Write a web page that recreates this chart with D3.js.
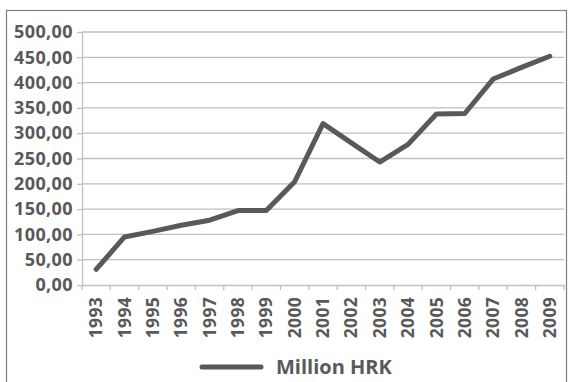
<!DOCTYPE html>
<html>
<head>
<meta charset="utf-8">
<script src="https://cdn.jsdelivr.net/npm/d3@7"></script>
<style>
  body { margin: 0; background: #fff; }
  svg { display: block; font-family: "Open Sans", sans-serif; }
</style>
</head>
<body>
<svg id="chart"></svg>
<script>
// Data
const years = ["1993", "1994", "1995", "1996", "1997", "1998", "1999", "2000", "2001",
  "2002", "2003", "2004", "2005", "2006", "2007", "2008", "2009"];
const millionHRK = [31, 95, 106, 118, 128, 147, 147, 204, 319,
  281, 243, 278, 338, 339, 407, 430, 452];
const yTicks = [0, 50, 100, 150, 200, 250, 300, 350, 400, 450, 500];
const seriesName = "Million HRK";

const W = 571, H = 382;
const margin = { top: 32, right: 7, bottom: 97, left: 82 };
const FONT = "'Open Sans', sans-serif";

const svg = d3.select("#chart").attr("width", W).attr("height", H);

// outer frame
svg.append("rect")
  .attr("x", 6.5).attr("y", 10.5)
  .attr("width", 560).attr("height", 380)
  .attr("fill", "none").attr("stroke", "#7f7f7f").attr("stroke-width", 1.2);

const x = d3.scaleBand()
  .domain(years)
  .range([margin.left, W - margin.right]);

const y = d3.scaleLinear()
  .domain([0, 500])
  .range([H - margin.bottom, margin.top]);

const fmt = v => d3.format(".2f")(v).replace(".", ",");

// gridlines
svg.append("g")
  .selectAll("line")
  .data(yTicks.filter(d => d > 0))
  .join("line")
  .attr("x1", margin.left).attr("x2", W - margin.right)
  .attr("y1", d => y(d)).attr("y2", d => y(d))
  .attr("stroke", "#bfbfbf").attr("stroke-width", 1.3);

// y axis
const yAxis = svg.append("g")
  .attr("transform", `translate(${margin.left},0)`)
  .call(d3.axisLeft(y).tickValues(yTicks).tickFormat(fmt).tickSize(5).tickSizeOuter(0))
  .attr("font-family", FONT);
yAxis.selectAll("path, line").attr("stroke", "#bfbfbf").attr("stroke-width", 1.3);
yAxis.selectAll("text")
  .attr("fill", "#595959")
  .attr("font-size", 18)
  .attr("font-weight", 700)
  .attr("letter-spacing", 0.4)
  .attr("x", -9);

// x axis
const xAxis = svg.append("g")
  .attr("transform", `translate(0,${H - margin.bottom})`)
  .call(d3.axisBottom(x).tickSize(0))
  .attr("font-family", FONT);
xAxis.select("path").attr("stroke", "#bfbfbf").attr("stroke-width", 1.3);

// tick marks at band boundaries
xAxis.selectAll(".band-tick")
  .data(years.concat(["end"]))
  .join("line")
  .attr("class", "band-tick")
  .attr("x1", (d, i) => margin.left + i * x.step())
  .attr("x2", (d, i) => margin.left + i * x.step())
  .attr("y1", 0).attr("y2", 5)
  .attr("stroke", "#bfbfbf").attr("stroke-width", 1.3);

xAxis.selectAll(".tick text")
  .attr("fill", "#595959")
  .attr("font-size", 17.5)
  .attr("font-weight", 700)
  .attr("letter-spacing", 0.3)
  .attr("transform", "rotate(-90)")
  .attr("text-anchor", "end")
  .attr("x", -12)
  .attr("y", 0)
  .attr("dy", "0.35em");

// line
const line = d3.line()
  .x((d, i) => x(years[i]) + x.bandwidth() / 2)
  .y(d => y(d));

svg.append("path")
  .datum(millionHRK)
  .attr("d", line)
  .attr("fill", "none")
  .attr("stroke", "#595959")
  .attr("stroke-width", 5)
  .attr("stroke-linecap", "round")
  .attr("stroke-linejoin", "round");

// legend
const legend = svg.append("g").attr("transform", "translate(200,367)");
legend.append("line")
  .attr("x1", 2).attr("x2", 61)
  .attr("stroke", "#595959").attr("stroke-width", 5)
  .attr("stroke-linecap", "round");
legend.append("text")
  .attr("x", 76).attr("dy", "0.35em")
  .attr("fill", "#595959")
  .attr("font-size", 20)
  .attr("font-weight", 700)
  .text(seriesName);
</script>
</body>
</html>
